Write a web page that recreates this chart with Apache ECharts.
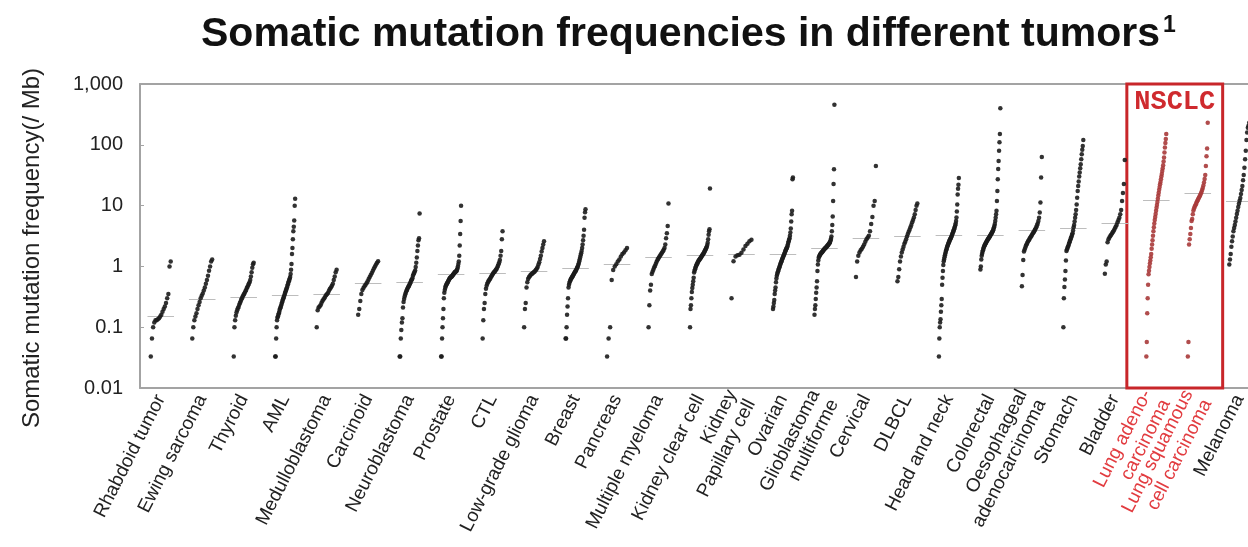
<!DOCTYPE html>
<html>
<head>
<meta charset="utf-8">
<script src="https://cdn.jsdelivr.net/npm/echarts@6/dist/echarts.min.js"></script>
<style>
  html, body { margin: 0; padding: 0; background: #fff; overflow: hidden; }
  #chart { width: 1260px; height: 547px; }
</style>
</head>
<body>
<div id="chart"></div>
<script>
// ---------------- DATA ----------------
const categories = [
  'Rhabdoid tumor', 'Ewing sarcoma', 'Thyroid', 'AML', 'Medulloblastoma', 'Carcinoid',
  'Neuroblastoma', 'Prostate', 'CTL', 'Low-grade glioma', 'Breast', 'Pancreas',
  'Multiple myeloma', 'Kidney clear cell', 'Kidney\nPapillary cell', 'Ovarian',
  'Glioblastoma\nmultiforme', 'Cervical', 'DLBCL', 'Head and neck', 'Colorectal',
  'Oesophageal\nadenocarcinoma', 'Stomach', 'Bladder', 'Lung adeno-\ncarcinoma',
  'Lung squamous\ncell carcinoma', 'Melanoma'
];
const highlighted = [24, 25];
const medians = [0.15, 0.29, 0.31, 0.33, 0.35, 0.52, 0.55, 0.74, 0.78, 0.84, 0.93, 1.07,
  1.39, 1.54, 1.56, 1.6, 1.96, 2.9, 3.1, 3.2, 3.3, 3.9, 4.2, 5.2, 12.3, 16, 12];
const yTickLabels = ['0.01', '0.1', '1', '10', '100', '1,000'];

const rhabdoid = [0.033, 0.065, 0.1, 0.12, 0.13, 0.13, 0.135, 0.14, 0.15, 0.16, 0.18, 0.2, 0.22, 0.25, 0.3, 0.35, 1.0, 1.2];
const ewing = [0.065, 0.1, 0.13, 0.15, 0.17, 0.2, 0.23, 0.26, 0.3, 0.33, 0.36, 0.4, 0.45, 0.52, 0.6, 0.7, 0.85, 1.0, 1.2, 1.3];
const thyroid = [0.033, 0.1, 0.13, 0.155, 0.175, 0.19, 0.205, 0.215, 0.235, 0.25, 0.265, 0.285, 0.3, 0.32, 0.335,
  0.35, 0.37, 0.39, 0.41, 0.44, 0.46, 0.49, 0.52, 0.55, 0.6, 0.68, 0.8, 0.95, 1.08, 1.15];
const aml = [0.033, 0.033, 0.065, 0.1, 0.13, 0.145, 0.15, 0.16, 0.17, 0.18, 0.195, 0.205, 0.215, 0.225, 0.24, 0.255,
  0.27, 0.285, 0.3, 0.315, 0.33, 0.35, 0.37, 0.39, 0.41, 0.43, 0.45, 0.48, 0.51, 0.54, 0.57, 0.6, 0.63, 0.67,
  0.75, 0.88, 1.1, 1.6, 2.0, 2.8, 3.8, 4.5, 5.7, 9.9, 13];
const medullo = [0.1, 0.19, 0.21, 0.22, 0.23, 0.25, 0.27, 0.285, 0.3, 0.32, 0.34, 0.35, 0.37, 0.4, 0.43, 0.45,
  0.48, 0.52, 0.6, 0.68, 0.8, 0.88];
const carcinoid = [0.16, 0.2, 0.27, 0.35, 0.41, 0.44, 0.47, 0.5, 0.53, 0.57, 0.62, 0.67, 0.72, 0.78, 0.85, 0.92,
  1.0, 1.07, 1.15, 1.22];
const neuro = [0.033, 0.033, 0.065, 0.09, 0.12, 0.14, 0.21, 0.26, 0.29, 0.32, 0.345, 0.37, 0.39, 0.41, 0.43, 0.45,
  0.465, 0.48, 0.51, 0.53, 0.56, 0.59, 0.61, 0.64, 0.7, 0.74, 0.78, 0.82, 0.86, 0.98, 1.15, 1.4, 1.8, 2.2, 2.7, 2.9, 7.4];
const prostate = [0.033, 0.033, 0.065, 0.1, 0.14, 0.2, 0.3, 0.37, 0.41, 0.44, 0.47, 0.49, 0.51, 0.53, 0.54, 0.56,
  0.58, 0.6, 0.62, 0.64, 0.65, 0.66, 0.67, 0.68, 0.69, 0.71, 0.73, 0.74, 0.76, 0.78, 0.8, 0.81, 0.82, 0.83, 0.84,
  0.88, 0.92, 1.0, 1.1, 1.2, 1.5, 2.2, 3.4, 5.6, 9.9];
const ctl = [0.065, 0.13, 0.2, 0.25, 0.35, 0.43, 0.48, 0.52, 0.55, 0.58, 0.6, 0.62, 0.65, 0.68, 0.71, 0.74, 0.77,
  0.8, 0.82, 0.85, 0.88, 0.91, 0.96, 1.02, 1.08, 1.17, 1.28, 1.5, 1.8, 2.8, 3.8];
const lgg = [0.1, 0.2, 0.25, 0.45, 0.55, 0.62, 0.66, 0.69, 0.72, 0.74, 0.76, 0.78, 0.8, 0.82, 0.85, 0.88, 0.92,
  0.98, 1.07, 1.17, 1.32, 1.5, 1.75, 2.0, 2.3, 2.6];
const breast = [0.065, 0.065, 0.1, 0.16, 0.22, 0.3, 0.45, 0.5, 0.54, 0.57, 0.6, 0.62, 0.64, 0.66, 0.68, 0.7, 0.73,
  0.75, 0.78, 0.8, 0.83, 0.85, 0.88, 0.92, 0.96, 1.0, 1.05, 1.12, 1.2, 1.3, 1.4, 1.52, 1.65, 1.8, 2.0, 2.3, 2.7,
  3.2, 4.0, 6.3, 7.8, 8.7];
const pancreas = [0.033, 0.065, 0.1, 0.6, 0.87, 1.0, 1.08, 1.2, 1.3, 1.45, 1.6, 1.7, 1.85, 2.0];
const myeloma = [0.1, 0.23, 0.4, 0.5, 0.75, 0.82, 0.88, 0.96, 1.02, 1.1, 1.18, 1.26, 1.33, 1.4, 1.47, 1.54, 1.62,
  1.7, 1.78, 1.87, 2.0, 2.3, 2.9, 3.5, 4.6, 10.8];
const kidneyClear = [0.1, 0.2, 0.23, 0.3, 0.38, 0.44, 0.5, 0.57, 0.65, 0.79, 0.85, 0.9, 0.95, 1.0, 1.04, 1.08, 1.12,
  1.16, 1.2, 1.24, 1.27, 1.3, 1.33, 1.36, 1.4, 1.44, 1.48, 1.52, 1.56, 1.6, 1.65, 1.7, 1.76, 1.82, 1.88, 1.95,
  2.02, 2.1, 2.25, 2.45, 2.8, 3.3, 3.8, 4.1, 19.1];
const kidneyPap = [0.3, 1.22, 1.45, 1.52, 1.56, 1.67, 1.9, 2.16, 2.35, 2.6, 2.75];
const ovarian = [0.2, 0.22, 0.25, 0.28, 0.35, 0.4, 0.45, 0.55, 0.63, 0.7, 0.75, 0.79, 0.83, 0.88, 0.92, 0.97, 1.02,
  1.06, 1.12, 1.17, 1.22, 1.27, 1.33, 1.38, 1.44, 1.5, 1.56, 1.62, 1.7, 1.77, 1.84, 1.92, 1.98, 2.05, 2.15, 2.3,
  2.45, 2.6, 2.75, 2.9, 3.2, 3.6, 4.2, 5.5, 7.2, 8.2, 27, 29];
const gbm = [0.16, 0.2, 0.23, 0.29, 0.37, 0.45, 0.57, 0.84, 1.07, 1.25, 1.39, 1.45, 1.5, 1.55, 1.6, 1.63, 1.66,
  1.69, 1.72, 1.76, 1.8, 1.84, 1.88, 1.92, 1.95, 1.98, 2.0, 2.04, 2.08, 2.12, 2.16, 2.2, 2.25, 2.3, 2.35, 2.4,
  2.45, 2.55, 2.7, 2.85, 3.1, 3.8, 4.8, 6.6, 11.9, 22.6, 39.6, 456];
const cervical = [0.67, 1.2, 1.5, 1.7, 1.85, 1.95, 2.1, 2.3, 2.55, 2.8, 3.0, 3.2, 3.8, 5.0, 6.5, 9.9, 11.9, 45];
const dlbcl = [0.57, 0.67, 0.9, 1.2, 1.45, 1.7, 1.9, 2.1, 2.35, 2.55, 2.8, 3.1, 3.4, 3.7, 4.0, 4.4, 4.8, 5.3,
  5.8, 6.4, 7.2, 8.5, 9.9, 10.8];
const headNeck = [0.033, 0.065, 0.1, 0.12, 0.135, 0.18, 0.23, 0.29, 0.5, 0.65, 0.84, 1.05, 1.22, 1.3, 1.42, 1.52,
  1.62, 1.72, 1.82, 1.92, 2.02, 2.12, 2.2, 2.3, 2.4, 2.5, 2.6, 2.7, 2.8, 2.85, 2.95, 3.05, 3.15, 3.3, 3.45, 3.6,
  3.75, 3.9, 4.1, 4.3, 4.5, 4.75, 5.1, 5.6, 6.4, 8.0, 10.4, 15.2, 19, 22, 28.5];
const colorectal = [0.89, 1.0, 1.3, 1.5, 1.62, 1.74, 1.84, 1.95, 2.05, 2.15, 2.22, 2.3, 2.37, 2.43, 2.52, 2.6,
  2.67, 2.75, 2.82, 2.88, 2.95, 3.02, 3.1, 3.18, 3.28, 3.38, 3.46, 3.56, 3.68, 3.8, 3.95, 4.15, 4.35, 4.6, 5.0,
  5.6, 6.3, 7.2, 8.2, 11.9, 17.4, 27, 40, 54, 80, 110, 150, 400];
const oesophageal = [0.47, 0.72, 1.27, 1.75, 1.9, 2.05, 2.2, 2.32, 2.45, 2.58, 2.7, 2.82, 2.95, 3.08, 3.2, 3.35,
  3.5, 3.65, 3.8, 4.0, 4.2, 4.4, 4.75, 5.1, 5.6, 6.3, 7.7, 11.2, 29, 63];
const stomach = [0.1, 0.3, 0.46, 0.61, 0.84, 1.25, 1.8, 1.9, 2.0, 2.1, 2.2, 2.35, 2.5, 2.65, 2.8, 2.95, 3.1, 3.3,
  3.5, 3.9, 4.4, 4.8, 5.5, 6.3, 7.2, 8.5, 10.4, 13.5, 17.4, 21, 25, 30, 35, 41, 48, 58, 70, 83, 96, 120];
const bladder = [0.76, 1.07, 1.2, 2.5, 2.8, 3.0, 3.15, 3.3, 3.5, 3.7, 3.9, 4.2, 4.5, 4.8, 5.3, 5.8, 6.3, 7.2,
  8.5, 11.9, 16.1, 22.6, 56];
const lungAdeno = [0.033, 0.057, 0.17, 0.3, 0.5, 0.74, 0.85, 0.98, 1.12, 1.25, 1.42, 1.6, 1.95, 2.3, 2.7, 3.2,
  3.8, 4.4, 5.1, 5.8, 6.5, 7.3, 8.2, 9.2, 10.2, 11.5, 13, 14.6, 16.3, 18.2, 20.3, 22.5, 24.5, 27, 30, 33, 37,
  41, 46, 53, 62, 75, 90, 107, 125, 150];
const lungSquamous = [0.033, 0.057, 2.3, 2.8, 3.4, 4.3, 5.6, 6.0, 7.2, 8.3, 9.0, 9.6, 10.0, 10.5, 11.2, 11.8,
  12.4, 13.0, 13.6, 14.3, 15.0, 15.8, 16.8, 18, 19.5, 21.5, 24, 27.5, 32, 45, 65, 87, 230];
const melanoma = [1.07, 1.3, 1.6, 2.1, 2.6, 3.1, 3.8, 4.3, 4.8, 5.5, 6.3, 7.3, 8.2, 9.5, 10.7, 12, 13.3, 15.5,
  18, 21, 26, 32, 42, 58, 80, 120, 160, 190, 205, 230];

const samples = [rhabdoid, ewing, thyroid, aml, medullo, carcinoid, neuro, prostate, ctl, lgg, breast, pancreas,
  myeloma, kidneyClear, kidneyPap, ovarian, gbm, cervical, dlbcl, headNeck, colorectal, oesophageal, stomach,
  bladder, lungAdeno, lungSquamous, melanoma];

// ---------------- BUILD ----------------
const SPREAD = 0.24;     // half width of the dot cloud (category units)
const MED_HALF = 0.32;   // half width of the median bar
const blackPts = [], redPts = [];
samples.forEach((vals, i) => {
  const s = vals.slice().sort((a, b) => a - b);
  const n = s.length;
  s.forEach((v, k) => {
    const x = i - SPREAD + 2 * SPREAD * (n > 1 ? k / (n - 1) : 0.5);
    (highlighted.includes(i) ? redPts : blackPts).push([x, v]);
  });
});
const medianLines = medians.map((m, i) => ({ coords: [[i - MED_HALF, m], [i + MED_HALF, m]] }));

const RED_LABEL = '#e23c40';
const axisCats = categories.map((c, i) => highlighted.includes(i)
  ? { value: c, textStyle: { color: RED_LABEL } } : c);

const FONT = 'Liberation Sans, Arial, sans-serif';
const axisGray = '#a3a3a3';

const chart = echarts.init(document.getElementById('chart'), null, { renderer: 'canvas' });
chart.setOption({
  backgroundColor: '#ffffff',
  animation: false,
  title: {
    text: '{t|Somatic mutation frequencies in different tumors}{s|1}',
    left: 196, top: 9,
    textStyle: {
      rich: {
        t: { fontSize: 41, fontWeight: 'bold', color: '#111', fontFamily: FONT },
        s: { fontSize: 23, fontWeight: 'bold', color: '#111', fontFamily: FONT, verticalAlign: 'top', padding: [0, 0, 14, 3] }
      }
    }
  },
  grid: { left: 140, right: 0, top: 84, bottom: 159, containLabel: false },
  xAxis: [
    {
      type: 'category', data: axisCats, position: 'bottom', boundaryGap: true,
      axisLine: { onZero: false, lineStyle: { color: axisGray, width: 2 } },
      axisTick: { alignWithLabel: true, length: 4, lineStyle: { color: axisGray } },
      axisLabel: { interval: 0, rotate: 63, fontSize: 19, color: '#222', fontFamily: FONT, margin: 8, lineHeight: 21 },
      splitLine: { show: false }
    },
    {
      type: 'value', min: -0.5, max: categories.length - 0.5, show: false
    },
    {
      type: 'category', data: categories, position: 'top', boundaryGap: true,
      axisLine: { onZero: false, lineStyle: { color: axisGray, width: 2 } },
      axisTick: { alignWithLabel: true, inside: true, length: 3, lineStyle: { color: axisGray } },
      axisLabel: { show: false }, splitLine: { show: false }
    }
  ],
  yAxis: {
    type: 'log', logBase: 10, min: 0.01, max: 1000,
    name: 'Somatic mutation frequency(/ Mb)', nameLocation: 'middle', nameGap: 96,
    nameTextStyle: { fontSize: 24, color: '#222', fontFamily: FONT, padding: [0, 24, 0, 0] },
    axisLine: { show: true, onZero: false, lineStyle: { color: axisGray, width: 2 } },
    axisTick: { show: true, inside: true, length: 4, lineStyle: { color: axisGray } },
    axisLabel: {
      fontSize: 20, color: '#222', fontFamily: FONT, margin: 17,
      formatter: v => yTickLabels[Math.round(Math.log10(v)) + 2]
    },
    splitLine: { show: false }
  },
  series: [
    {
      type: 'lines', coordinateSystem: 'cartesian2d', xAxisIndex: 1, yAxisIndex: 0,
      data: medianLines, z: 1, silent: true,
      lineStyle: { color: '#bdbdbd', width: 1.2, opacity: 1 }
    },
    {
      type: 'scatter', xAxisIndex: 1, yAxisIndex: 0, data: blackPts, symbolSize: 4.5, z: 3,
      itemStyle: { color: '#1c1c1c', opacity: 0.9 }
    },
    {
      type: 'scatter', xAxisIndex: 1, yAxisIndex: 0, data: redPts, symbolSize: 4.5, z: 3,
      itemStyle: { color: '#a83a3a', opacity: 0.9 },
      markArea: {
        silent: true,
        itemStyle: { color: 'rgba(0,0,0,0)', borderColor: '#c8262a', borderWidth: 3 },
        label: {
          show: true, position: 'insideTop', distance: 6, formatter: 'NSCLC',
          color: '#cf2a2e', fontSize: 27, fontWeight: 'bold', fontFamily: 'Liberation Mono, Courier New, monospace'
        },
        data: [[
          { xAxis: highlighted[0] - 0.71, yAxis: 0.01 },
          { xAxis: highlighted[1] + 0.6, yAxis: 1000 }
        ]]
      }
    }
  ]
});
</script>
</body>
</html>
